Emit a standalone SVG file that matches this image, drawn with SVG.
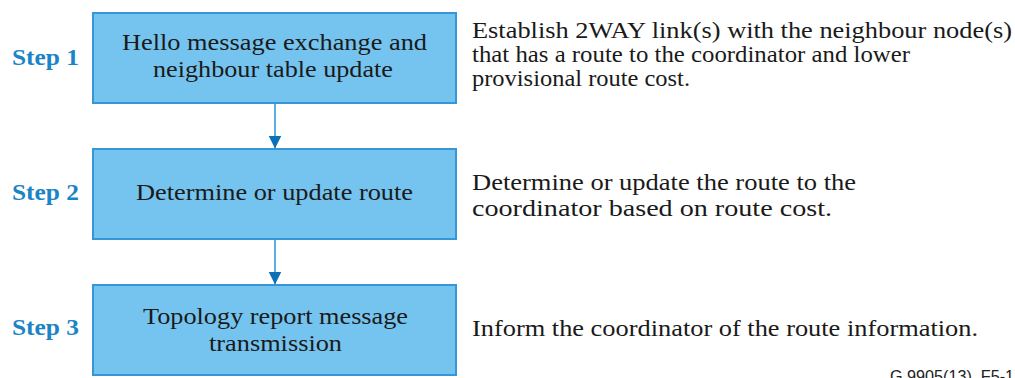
<svg xmlns="http://www.w3.org/2000/svg" width="1015" height="378" viewBox="0 0 1015 378">
<style>
.box{fill:#75c4ef;stroke:#3797d6;stroke-width:2}
.bt{font-family:"Liberation Serif",serif;font-size:24px;fill:#1a1a1a;text-anchor:middle}
.st{font-family:"Liberation Serif",serif;font-size:24px;font-weight:bold;fill:#1a84c6;text-anchor:middle}
.rt{font-family:"Liberation Serif",serif;font-size:24px;fill:#1a1a1a}
.ft{font-family:"Liberation Sans",sans-serif;font-size:16px;fill:#222}
.con{stroke:#4aa6df;stroke-width:1.8;fill:none}
</style>
<defs>
<marker id="ah" markerWidth="14" markerHeight="14" refX="13" refY="6.5" orient="auto" markerUnits="userSpaceOnUse">
<path d="M0,0 L13,6.5 L0,13 Z" fill="#0b70b8"/>
</marker>
</defs>
<rect width="1015" height="378" fill="#fff"/>
<g id="connectors">
<line class="con" x1="275" y1="103" x2="275" y2="148.5" marker-end="url(#ah)"/>
<line class="con" x1="275" y1="239" x2="275" y2="284.5" marker-end="url(#ah)"/>
</g>
<g id="step1">
<text class="st" x="45.5" y="65" textLength="67" lengthAdjust="spacingAndGlyphs">Step 1</text>
<rect class="box" x="93" y="13" width="363" height="90"/>
<text class="bt" x="274.5" y="50" textLength="305" lengthAdjust="spacingAndGlyphs">Hello message exchange and</text>
<text class="bt" x="273" y="77" textLength="240" lengthAdjust="spacingAndGlyphs">neighbour table update</text>
<text class="rt" x="472" y="38" textLength="540" lengthAdjust="spacingAndGlyphs">Establish 2WAY link(s) with the neighbour node(s)</text>
<text class="rt" x="472" y="62" textLength="438" lengthAdjust="spacingAndGlyphs">that has a route to the coordinator and lower</text>
<text class="rt" x="472" y="86" textLength="218" lengthAdjust="spacingAndGlyphs">provisional route cost.</text>
</g>
<g id="step2">
<text class="st" x="45.5" y="200" textLength="67" lengthAdjust="spacingAndGlyphs">Step 2</text>
<rect class="box" x="93" y="149" width="363" height="90"/>
<text class="bt" x="274.5" y="200" textLength="277" lengthAdjust="spacingAndGlyphs">Determine or update route</text>
<text class="rt" x="472" y="190" textLength="384" lengthAdjust="spacingAndGlyphs">Determine or update the route to the</text>
<text class="rt" x="472" y="216" textLength="360" lengthAdjust="spacingAndGlyphs">coordinator based on route cost.</text>
</g>
<g id="step3">
<text class="st" x="45.5" y="335" textLength="67" lengthAdjust="spacingAndGlyphs">Step 3</text>
<rect class="box" x="93" y="285" width="363" height="90"/>
<text class="bt" x="275.5" y="324" textLength="265" lengthAdjust="spacingAndGlyphs">Topology report message</text>
<text class="bt" x="275.5" y="351" textLength="133" lengthAdjust="spacingAndGlyphs">transmission</text>
<text class="rt" x="472" y="336" textLength="506" lengthAdjust="spacingAndGlyphs">Inform the coordinator of the route information.</text>
</g>
<text class="ft" x="890" y="382" textLength="124" lengthAdjust="spacingAndGlyphs">G.9905(13)_F5-1</text>
</svg>
